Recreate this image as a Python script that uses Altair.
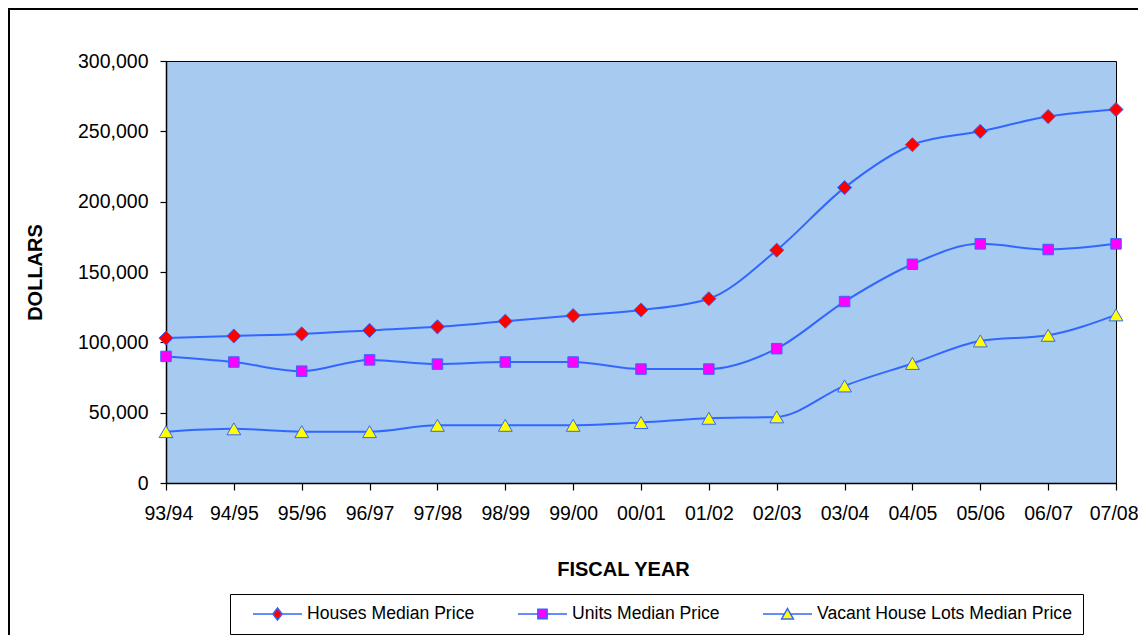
import altair as alt
import pandas as pd

years = ["93/94", "94/95", "95/96", "96/97", "97/98", "98/99", "99/00", "00/01",
         "01/02", "02/03", "03/04", "04/05", "05/06", "06/07", "07/08"]
series_names = ["Houses Median Price", "Units Median Price", "Vacant House Lots Median Price"]
houses = [103000, 104500, 106000, 108500, 111000, 115000, 119000, 123000,
          131000, 165500, 210000, 240500, 250000, 260500, 265500]
units = [90000, 86000, 79500, 87500, 84500, 86000, 86000, 81000,
         81000, 95500, 129000, 155500, 170000, 166000, 170000]
vacant = [36500, 38500, 36500, 36500, 41000, 41000, 41000, 43000,
          46000, 47000, 69000, 85000, 101000, 105000, 119500]
y_ticks = [0, 50000, 100000, 150000, 200000, 250000, 300000]

marker_fill = ["#FF0000", "#FF00FF", "#FFFF00"]
marker_shape = ["diamond", "square", "triangle-up"]
marker_size = [200, 110, 190]
legend_paths = [
    "M-1,0L-0.19,0M0.19,0L1,0M0,-0.25L0.19,0L0,0.25L-0.19,0Z",
    "M-1,0L-0.19,0M0.19,0L1,0M-0.19,-0.19L0.19,-0.19L0.19,0.19L-0.19,0.19Z",
    "M-1,0L-0.13,0M0.13,0L1,0M0,-0.22L0.24,0.2L-0.24,0.2Z",
]

rows = []
for name, vals in zip(series_names, [houses, units, vacant]):
    for yr, v in zip(years, vals):
        rows.append({"year": yr, "series": name, "value": v})
df = pd.DataFrame(rows)

LINE = "#3366FF"
FONT = "Liberation Sans"

X = alt.X("year:O", sort=years, scale=alt.Scale(type="point", padding=0),
          axis=alt.Axis(title="FISCAL YEAR", labelAngle=0, labelFont=FONT, labelFontSize=19.5,
                        labelColor="#000000", labelPadding=14.5, tickSize=7, tickColor="#000000",
                        labelFlush=1, labelFlushOffset=22,
                        tickWidth=1.2, domainColor="#000000", domainWidth=1.5,
                        titleFont=FONT, titleFontSize=20, titleFontWeight="bold",
                        titleColor="#000000", titleX=457, titleY=92, titleAlign="center",
                        titleBaseline="alphabetic"))
Y = alt.Y("value:Q", scale=alt.Scale(domain=[0, 300000], nice=False),
          axis=alt.Axis(title="DOLLARS", values=y_ticks, format=",.0f", grid=False,
                        labelFont=FONT, labelFontSize=19.5, labelColor="#000000",
                        labelPadding=12, tickSize=6, tickColor="#000000", tickWidth=1.2,
                        domainColor="#000000", domainWidth=1.5,
                        titleFont=FONT, titleFontSize=20, titleFontWeight="bold",
                        titleColor="#000000", titleAngle=270, titleX=-125, titleY=211,
                        titleAlign="center", titleBaseline="alphabetic"))

base = alt.Chart(df).encode(x=X, y=Y)

border = alt.Chart(pd.DataFrame({"k": [0]})).mark_rect(
    fill="transparent", stroke="#000000", strokeWidth=2
).encode(x=alt.value(-157), y=alt.value(-52), x2=alt.value(1300), y2=alt.value(900))

lines = base.mark_line(interpolate="monotone", color=LINE, strokeWidth=2).encode(
    detail="series:N")

marker_layers = []
for name, shp, fc, sz in zip(series_names, marker_shape, marker_fill, marker_size):
    marker_layers.append(
        base.mark_point(shape=shp, filled=True, fill=fc, stroke=LINE, strokeWidth=1,
                        size=sz, opacity=1).transform_filter(alt.datum.series == name)
    )

leg = alt.Legend(title=None, orient="none", legendX=64, legendY=533, direction="horizontal",
                 strokeColor="#000000", padding=11, symbolOffset=11, labelOffset=4,
                 columnPadding=31, clipHeight=18, symbolSize=2401, symbolStrokeWidth=1.5,
                 symbolStrokeColor=LINE, labelFont=FONT, labelFontSize=17.6, labelLimit=500,
                 labelColor="#000000", fillColor="#FFFFFF")

legend_layer = base.mark_point(filled=False, strokeWidth=1.5, opacity=1).encode(
    shape=alt.Shape("series:N", scale=alt.Scale(domain=series_names, range=legend_paths),
                    legend=leg),
    fill=alt.Fill("series:N", scale=alt.Scale(domain=series_names, range=marker_fill),
                  legend=leg),
    stroke=alt.Stroke("series:N", scale=alt.Scale(domain=series_names, range=[LINE, LINE, LINE]),
                      legend=leg),
).transform_filter("datum.value < 0")

chart = alt.layer(border, lines, *marker_layers, legend_layer).properties(
    width=950, height=422,
    autosize=alt.AutoSizeParams(type="none"),
    padding={"left": 158, "top": 53, "right": 22, "bottom": 152},
).configure_view(fill="#A6CAF0", stroke="#000000", strokeWidth=1)

chart.save("out.html", embed_options={"renderer": "svg", "actions": False})
